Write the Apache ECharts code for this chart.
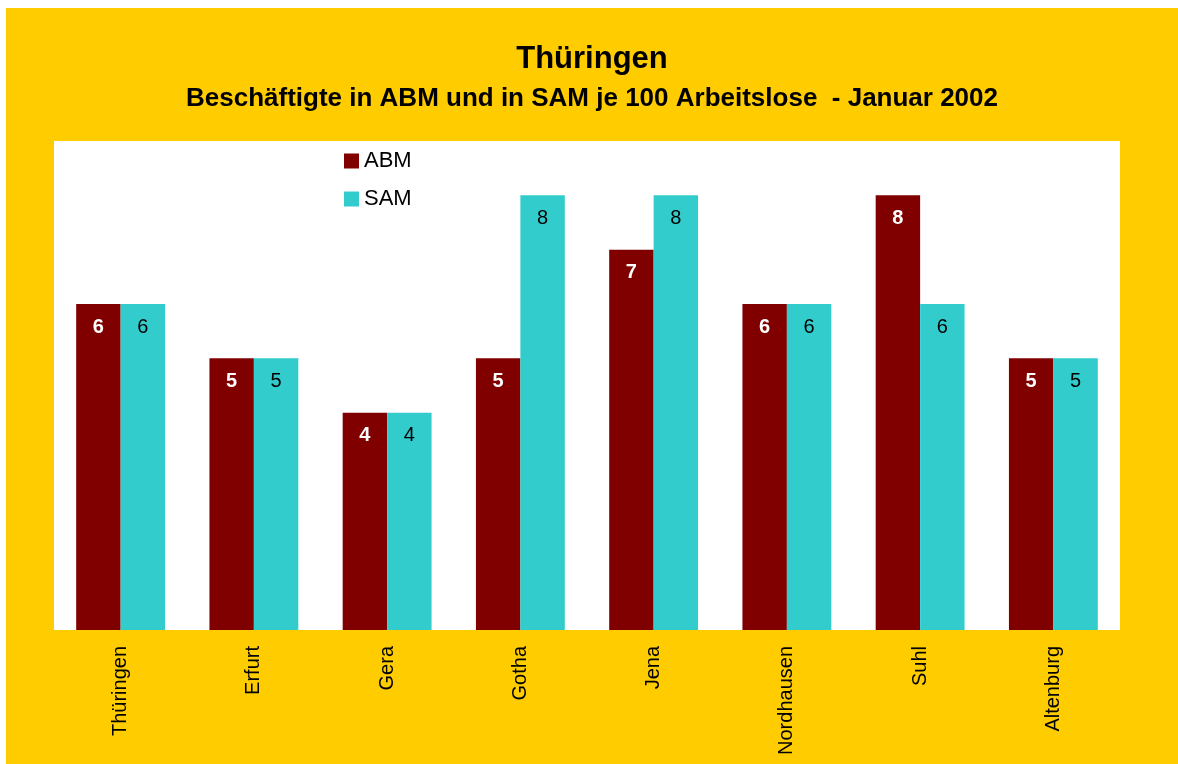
<!DOCTYPE html>
<html>
<head>
<meta charset="utf-8">
<script src="https://cdn.jsdelivr.net/npm/echarts@6/dist/echarts.min.js"></script>
<style>
  html, body { margin: 0; padding: 0; background: #fff; }
  #chart1 { position: absolute; left: 6px; top: 8px; width: 1172px; height: 756px; }
</style>
</head>
<body>
<div id="chart1"></div>
<script>
var regions = ['Thüringen', 'Erfurt', 'Gera', 'Gotha', 'Jena', 'Nordhausen', 'Suhl', 'Altenburg'];
var abm = [6, 5, 4, 5, 7, 6, 8, 5];
var sam = [6, 5, 4, 8, 8, 6, 6, 5];

var chartDom = document.getElementById('chart1');
var myChart = echarts.init(chartDom);
var font = '"Liberation Sans", Arial, sans-serif';

var option = {
    backgroundColor: '#FFCC00',
    animation: false,
    textStyle: { fontFamily: font },
    title: {
        text: 'Thüringen',
        subtext: 'Beschäftigte in ABM und in SAM je 100 Arbeitslose  - Januar 2002',
        left: 'center',
        top: 31,
        itemGap: 11,
        textStyle: { fontSize: 31, fontWeight: 'bold', color: '#000', fontFamily: font },
        subtextStyle: { fontSize: 26, fontWeight: 'bold', color: '#000', fontFamily: font }
    },
    legend: {
        orient: 'vertical',
        left: 333,
        top: 137,
        itemWidth: 15,
        itemHeight: 15,
        itemGap: 16,
        icon: 'rect',
        textStyle: { fontSize: 22, color: '#000', fontFamily: font },
        data: ['ABM', 'SAM']
    },
    grid: {
        show: true,
        backgroundColor: '#fff',
        borderWidth: 0,
        left: 48,
        right: 58,
        top: 133,
        bottom: 134
    },
    xAxis: {
        type: 'category',
        data: regions,
        axisLine: { show: false },
        axisTick: { show: false },
        axisLabel: { rotate: 90, margin: 16, fontSize: 20, color: '#000', fontFamily: font }
    },
    yAxis: {
        type: 'value',
        min: 0,
        max: 9,
        show: false,
        splitLine: { show: false }
    },
    series: [
        {
            name: 'ABM',
            type: 'bar',
            data: abm,
            barGap: '0%',
            barCategoryGap: '33.3%',
            itemStyle: { color: '#800000' },
            label: {
                show: true,
                position: 'insideTop',
                distance: 13,
                color: '#fff',
                fontWeight: 'bold',
                fontSize: 20,
                fontFamily: font
            }
        },
        {
            name: 'SAM',
            type: 'bar',
            data: sam,
            barGap: '0%',
            barCategoryGap: '33.3%',
            itemStyle: { color: '#33CCCC' },
            label: {
                show: true,
                position: 'insideTop',
                distance: 13,
                color: '#000',
                fontSize: 20,
                fontFamily: font
            }
        }
    ]
};

option && myChart.setOption(option);
</script>
</body>
</html>
